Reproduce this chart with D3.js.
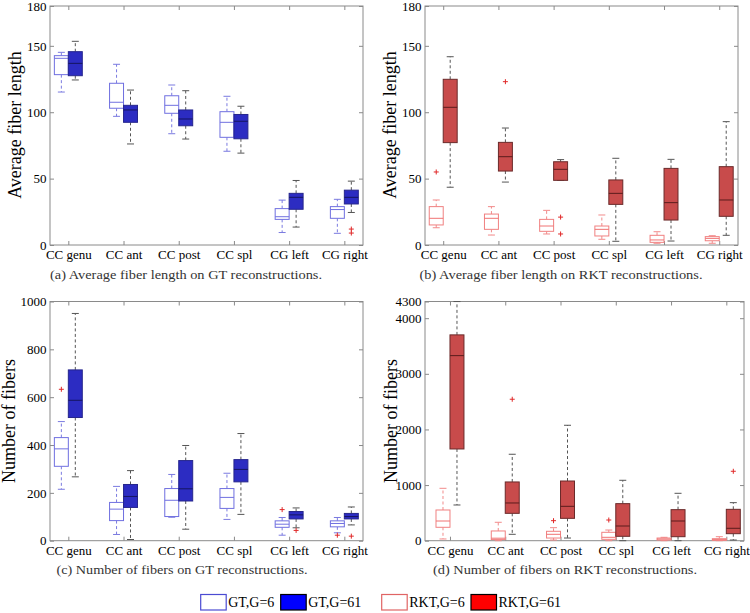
<!DOCTYPE html>
<html><head><meta charset="utf-8">
<script src="https://cdn.jsdelivr.net/npm/d3@7"></script>
<style>body{margin:0;background:#fff} svg{display:block} text{font-family:"Liberation Serif","DejaVu Serif",serif !important;}</style>
</head><body><svg id="c" width="750" height="613"></svg>
<script>
// ---------- DATA ----------
const categories = ["CC genu", "CC ant", "CC post", "CC spl", "CG left", "CG right"];
const seriesNames = ["GT,G=6", "GT,G=61", "RKT,G=6", "RKT,G=61"];
// five-number summaries per category: [lower whisker, Q1, median, Q3, upper whisker]
const lenGT6 = [[115.2,128.3,140.6,142.6,145.1],[96.9,103,107.5,121.8,136.1],[83.8,99.2,105.2,112.4,120.5],[70.6,81.1,92.4,100.4,112],[9.4,19.3,21.3,27.4,33.8],[8.8,20.1,26.7,28.9,34.4]];
const lenGT61 = [[124.3,127.5,136.8,145.6,153.4],[76.1,92.4,101.7,105.2,116.7],[79.8,89.8,94.9,101.7,116.2],[69.2,80,93.2,98.3,104.5],[13.5,26.9,35.9,38.9,48.6],[24.5,30.9,35.9,41.3,48.1]];
const lenRKT6 = [[13,15.1,20.1,28.9,33.9],[7.5,11.8,20.1,23.3,28.9],[8.3,10.3,14.3,19.3,26.1],[4.3,6.8,11.8,14.3,22.6],[1.3,2,3.8,7.3,10],[1.3,3.2,5,6.3,7]];
const lenRKT61 = [[43.5,77.1,103.7,124.8,141.8],[47.4,55.7,66.5,77.3,88.1],[48.7,48.7,57,62.7,64.3],[2.8,30.6,38.9,49,65.3],[3,18.8,31.9,57.7,64.5],[7.3,21.6,33.9,59,92.9]];
const numGT6 = [[215,311,384,431,498],[26,84,132,160,227],[98,101,169,218,277],[89,135,181,218,282],[23,56,69,83,97],[33,58,72,83,97]];
const numGT61 = [[267,515,587,714,950],[5,139,185,235,293],[48,166,217,335,398],[110,246,298,339,448],[54,91,108,122,137],[66,91,101,114,141]];
const numRKT6 = [[31,241,354,552,942],[0,20,45,175,331],[12,48,115,169,234],[0,25,61,151,192],[0,12,30,48,61],[0,6,18,36,72]];
const numRKT61 = [[642,1649,3327,3700,4299],[115,492,678,1056,1554],[48,402,618,1073,2075],[0,79,264,666,1086],[0,72,354,558,852],[12,126,223,564,684]];
// outliers: [category index, value]
const lenGT6Out = [];
const lenGT61Out = [[5,12],[5,9]];
const lenRKT6Out = [[0,55]];
const lenRKT61Out = [[1,123],[2,21],[2,8.3]];
const numGT6Out = [[0,633],[4,130],[5,23]];
const numGT61Out = [[4,43],[5,19]];
const numRKT6Out = [[2,360],[3,372]];
const numRKT61Out = [[1,2543],[5,1248]];
const lenTicks = [0, 50, 100, 150, 180];
const numGTTicks = [0, 200, 400, 600, 800, 1000];
const numRKTTicks = [0, 1000, 2000, 3000, 4000, 4300];
const yTitles = ["Average fiber length", "Number of fibers"];
const captions = ["(a) Average fiber length on GT reconstructions.",
                  "(b) Average fiber length on RKT reconstructions.",
                  "(c) Number of fibers on GT reconstructions.",
                  "(d) Number of fibers on RKT reconstructions."];

// ---------- STYLES ----------
const SERIF = "Liberation Serif";
const sGT6 = {fill:"#ffffff", stroke:"#6f6fe0", median:"#7070e0", whisker:"#7a7ae0"};
const sGT61 = {fill:"#2c2cc2", stroke:"#26268c", median:"#151560", whisker:"#555"};
const sRKT6 = {fill:"#ffffff", stroke:"#f08080", median:"#f07272", whisker:"#f28a8a"};
const sRKT61 = {fill:"#c84b4b", stroke:"#6a2a2a", median:"#5a1c1c", whisker:"#555"};
const legendStyles = [
  {fill:"#ffffff", stroke:"#4b4bd2"}, {fill:"#0000ff", stroke:"#000"},
  {fill:"#ffffff", stroke:"#e06464"}, {fill:"#ff0000", stroke:"#000"}];

const svg = d3.select("#c");

function panel(p) {
  const g = svg.append("g");
  const x = d3.scaleLinear().domain(p.xd).range([p.x0, p.x1]);
  const y = d3.scaleLinear().domain([0, p.yMax]).range([p.y1, p.y0]);
  const bw = 0.253; // box width in category units

  const style = sel => { sel.select(".domain").remove();
    sel.selectAll("line").attr("stroke", "#8a8a8a");
    sel.attr("font-family", SERIF).attr("font-size", 13);
    sel.selectAll("text").attr("fill", "#000"); };
  g.append("g").attr("transform", `translate(${p.x0},0)`)
    .call(d3.axisLeft(y).tickValues(p.ticks).tickSize(-4).tickPadding(3.5).tickFormat(d3.format("d"))).call(style);
  g.append("g").attr("transform", `translate(${p.x1},0)`)
    .call(d3.axisRight(y).tickValues(p.ticks).tickSize(-4).tickFormat("")).call(style);
  g.append("g").attr("transform", `translate(0,${p.y1})`)
    .call(d3.axisBottom(x).tickValues(d3.range(categories.length)).tickSize(-4).tickPadding(5).tickFormat(i => categories[i])).call(style);
  g.append("g").attr("transform", `translate(0,${p.y0})`)
    .call(d3.axisTop(x).tickValues(d3.range(categories.length)).tickSize(-4).tickFormat("")).call(style);
  g.append("rect").attr("x", p.x0).attr("y", p.y0).attr("width", p.x1 - p.x0).attr("height", p.y1 - p.y0)
    .attr("fill", "none").attr("stroke", "#8a8a8a");

  function boxes(data, off, st) {
    const gb = g.append("g");
    data.forEach((d, i) => {
      const cx = x(i + off), xl = x(i + off - bw / 2), xr = x(i + off + bw / 2);
      const cl = x(i + off - bw / 4), cr = x(i + off + bw / 4);
      [[d[3], d[4]], [d[1], d[0]]].forEach(([a, b]) => {
        gb.append("line").attr("x1", cx).attr("x2", cx).attr("y1", y(a)).attr("y2", y(b))
          .attr("stroke", st.whisker).attr("stroke-dasharray", "3,2.5");
        gb.append("line").attr("x1", cl).attr("x2", cr).attr("y1", y(b)).attr("y2", y(b))
          .attr("stroke", st.whisker);
      });
      gb.append("rect").attr("x", xl).attr("y", y(d[3])).attr("width", xr - xl)
        .attr("height", Math.max(0.5, y(d[1]) - y(d[3]))).attr("fill", st.fill).attr("stroke", st.stroke);
      gb.append("line").attr("x1", xl).attr("x2", xr).attr("y1", y(d[2])).attr("y2", y(d[2]))
        .attr("stroke", st.median);
    });
  }
  function outliers(data, off) {
    data.forEach(([i, v]) => {
      const cx = x(i + off), cy = y(v);
      g.append("path").attr("d", `M${cx - 2.5},${cy}H${cx + 2.5}M${cx},${cy - 2.5}V${cy + 2.5}`)
        .attr("stroke", "#e02828").attr("stroke-width", 1);
    });
  }
  boxes(p.left, -bw / 2, p.ls);
  boxes(p.right, bw / 2, p.rs);
  outliers(p.leftOut, -bw / 2);
  outliers(p.rightOut, bw / 2);

  svg.append("text").attr("transform", `translate(${p.tx},${p.ty}) rotate(-90)`)
    .attr("text-anchor", "middle").attr("font-family", SERIF).attr("font-size", 18).attr("fill", "#000")
    .text(p.title);
  svg.append("text").attr("x", p.cx).attr("y", p.cy).attr("text-anchor", "middle")
    .attr("font-family", SERIF).attr("font-size", 13).attr("fill", "#333")
    .attr("textLength", p.cw).attr("lengthAdjust", "spacingAndGlyphs").text(p.caption);
}

panel({x0:50, x1:363, y0:6, y1:245, xd:[-0.332, 5.338], yMax:180, ticks:lenTicks,
  left:lenGT6, right:lenGT61, leftOut:lenGT6Out, rightOut:lenGT61Out, ls:sGT6, rs:sGT61,
  title:yTitles[0], tx:21, ty:125, caption:captions[0], cx:186, cy:279, cw:272});
panel({x0:425, x1:738, y0:6, y1:245, xd:[-0.33, 5.34], yMax:180, ticks:lenTicks,
  left:lenRKT6, right:lenRKT61, leftOut:lenRKT6Out, rightOut:lenRKT61Out, ls:sRKT6, rs:sRKT61,
  title:yTitles[0], tx:396, ty:125, caption:captions[1], cx:561, cy:279, cw:283});
panel({x0:50, x1:363, y0:301.5, y1:540.7, xd:[-0.332, 5.338], yMax:1000, ticks:numGTTicks,
  left:numGT6, right:numGT61, leftOut:numGT6Out, rightOut:numGT61Out, ls:sGT6, rs:sGT61,
  title:yTitles[1], tx:15, ty:421, caption:captions[2], cx:182, cy:574, cw:251});
panel({x0:425, x1:744, y0:301.5, y1:540.7, xd:[-0.452, 5.32], yMax:4300, ticks:numRKTTicks,
  left:numRKT6, right:numRKT61, leftOut:numRKT6Out, rightOut:numRKT61Out, ls:sRKT6, rs:sRKT61,
  title:yTitles[1], tx:397, ty:421, caption:captions[3], cx:565, cy:574, cw:264});

const legX = [200.7, 280.7, 381.7, 471];
const lg = svg.append("g");
seriesNames.forEach((n, i) => {
  lg.append("rect").attr("x", legX[i]).attr("y", 594.5).attr("width", 25.5).attr("height", 15.5)
    .attr("fill", legendStyles[i].fill).attr("stroke", legendStyles[i].stroke).attr("stroke-width", 1.2);
  lg.append("text").attr("x", legX[i] + 27.5).attr("y", 607).attr("font-family", SERIF)
    .attr("font-size", 14).attr("fill", "#000").text(n);
});
</script></body></html>
